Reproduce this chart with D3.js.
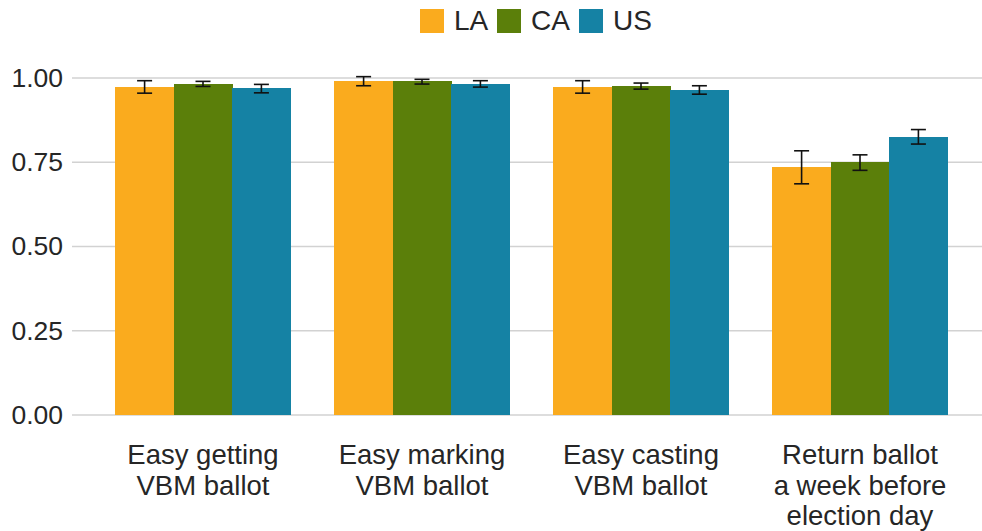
<!DOCTYPE html>
<html>
<head>
<meta charset="utf-8">
<script src="https://cdn.jsdelivr.net/npm/d3@7"></script>
<style>
  body { margin: 0; background: #fff; }
  svg { display: block; font-family: "Liberation Sans", Arial, sans-serif; }
</style>
</head>
<body>
<svg id="chart" width="982" height="531"></svg>
<script>
// Survey items (multi-line labels)
const categories = [
  ["Easy getting", "VBM ballot"],
  ["Easy marking", "VBM ballot"],
  ["Easy casting", "VBM ballot"],
  ["Return ballot", "a week before", "election day"]
];
const seriesNames = ["LA", "CA", "US"];
const seriesColors = ["#FAAB1E", "#5B7F0A", "#1582A4"];

// Proportion estimates per series, one entry per category
const valuesLA = [0.973, 0.991, 0.973, 0.736];
const valuesCA = [0.982, 0.990, 0.976, 0.751];
const valuesUS = [0.970, 0.982, 0.964, 0.825];

// Confidence interval bounds
const lowerLA = [0.955, 0.977, 0.955, 0.686];
const upperLA = [0.992, 1.004, 0.992, 0.784];
const lowerCA = [0.975, 0.982, 0.967, 0.726];
const upperCA = [0.990, 0.996, 0.985, 0.772];
const lowerUS = [0.956, 0.973, 0.952, 0.804];
const upperUS = [0.981, 0.992, 0.977, 0.847];

const yTicks = [0, 0.25, 0.5, 0.75, 1.0];

const seriesValues = [valuesLA, valuesCA, valuesUS];
const seriesLower = [lowerLA, lowerCA, lowerUS];
const seriesUpper = [upperLA, upperCA, upperUS];

const rows = [];
categories.forEach((c, i) => {
  seriesNames.forEach((s, j) => {
    rows.push({ cat: i, series: s, si: j,
      value: seriesValues[j][i], lo: seriesLower[j][i], hi: seriesUpper[j][i] });
  });
});

const svg = d3.select("#chart");
const panelLeft = 72, panelRight = 982;

// Category groups take 80% of each step
const x = d3.scaleBand()
  .domain(d3.range(categories.length))
  .range([93.5, 969.5])
  .paddingInner(0.2)
  .paddingOuter(0.1);
const inner = d3.scaleBand().domain(seriesNames).range([0, x.bandwidth()]);

const y = d3.scaleLinear().domain([0, 1]).range([415, 78]);

// Grid lines
svg.append("g").selectAll("line")
  .data(yTicks)
  .join("line")
  .attr("x1", panelLeft).attr("x2", panelRight)
  .attr("y1", d => y(d)).attr("y2", d => y(d))
  .attr("stroke", "#d2d2d2").attr("stroke-width", 1.4);

// Y axis labels
const yAxis = d3.axisLeft(y).tickValues(yTicks).tickFormat(d3.format(".2f")).tickSize(0).tickPadding(9);
const yg = svg.append("g").attr("transform", `translate(${panelLeft},0)`).call(yAxis);
yg.select(".domain").remove();
yg.selectAll("text").attr("font-size", 26.5).attr("fill", "#262626")
  .attr("font-family", "'Liberation Sans', Arial, sans-serif");

// Bars
svg.append("g").attr("shape-rendering", "crispEdges").selectAll("rect")
  .data(rows)
  .join("rect")
  .attr("x", d => x(d.cat) + inner(d.series))
  .attr("width", inner.bandwidth() + 0.3)
  .attr("y", d => y(d.value))
  .attr("height", d => y(0) - y(d.value))
  .attr("fill", d => seriesColors[d.si]);

// Error bars
const capHalf = 7.5;
const eb = svg.append("g").attr("stroke", "#111").attr("stroke-width", 1.6).attr("fill", "none");
rows.forEach(d => {
  const cx = x(d.cat) + inner(d.series) + inner.bandwidth() / 2;
  eb.append("line").attr("x1", cx).attr("x2", cx).attr("y1", y(d.lo)).attr("y2", y(d.hi));
  eb.append("line").attr("x1", cx - capHalf).attr("x2", cx + capHalf).attr("y1", y(d.lo)).attr("y2", y(d.lo));
  eb.append("line").attr("x1", cx - capHalf).attr("x2", cx + capHalf).attr("y1", y(d.hi)).attr("y2", y(d.hi));
});

// X axis labels
const xl = svg.append("g");
categories.forEach((lines, i) => {
  const cx = x(i) + x.bandwidth() / 2;
  const t = xl.append("text")
    .attr("x", cx)
    .attr("y", 464)
    .attr("text-anchor", "middle")
    .attr("font-size", 27.5)
    .attr("fill", "#262626");
  lines.forEach((ln, k) => {
    t.append("tspan").attr("x", cx).attr("y", 464 + k * 30.5).text(ln);
  });
});

// Legend
const legendX = [420, 497, 579];
const lg = svg.append("g");
seriesNames.forEach((s, j) => {
  lg.append("rect").attr("x", legendX[j]).attr("y", 9).attr("width", 24).attr("height", 24)
    .attr("fill", seriesColors[j]);
  lg.append("text").attr("x", legendX[j] + 34).attr("y", 30)
    .attr("font-size", 28).attr("fill", "#262626").text(s);
});
</script>
</body>
</html>
